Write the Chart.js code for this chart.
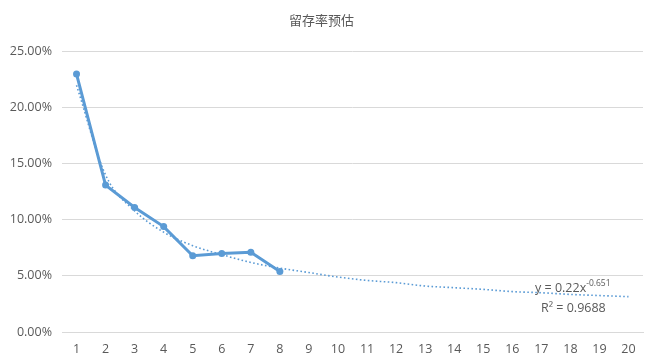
<!DOCTYPE html>
<html>
<head>
<meta charset="utf-8">
<script src="https://cdn.jsdelivr.net/npm/chart.js@4/dist/chart.umd.min.js"></script>
<style>
  html, body { margin: 0; padding: 0; background: #fff; }
</style>
</head>
<body>
<canvas id="res" width="654" height="363"></canvas>
<script>
(function () {

    // 天数
    var days = ["1","2","3","4","5","6","7","8","9","10","11","12","13","14","15","16","17","18","19","20"];
    // 实际留存率 (%)
    var retention = [23.0, 13.1, 11.1, 9.4, 6.8, 7.0, 7.1, 5.4];
    // 幂趋势线 (%)
    var trend = [22.0, 14.0, 10.8, 8.9, 7.7, 6.9, 6.2, 5.7, 5.3, 4.9,
                 4.6, 4.4, 4.1, 3.95, 3.8, 3.6, 3.5, 3.35, 3.25, 3.15];
    var yTicks = [0, 5, 10, 15, 20, 25];

    var blue = '#5B9BD5';
    var grey = '#595959';

    var trendLabel = {
        id: 'trendLabel',
        afterDatasetsDraw: function (chart) {
            var c = chart.ctx;
            c.save();
            c.fillStyle = grey;
            c.textBaseline = 'alphabetic';
            c.font = '12.5px "Open Sans", "Noto Sans", sans-serif';
            c.fillText('y = 0.22x', 535, 292);
            var w = c.measureText('y = 0.22x').width;
            c.font = '8.5px "Open Sans", "Noto Sans", sans-serif';
            c.fillText('-0.651', 535 + w, 286);
            c.font = '12.5px "Open Sans", "Noto Sans", sans-serif';
            c.fillText('R\u00B2 = 0.9688', 541, 312);
            c.restore();
        }
    };

    var ctx = document.getElementById("res").getContext('2d');

    new Chart(ctx, {
        type: 'line',
        data: {
            labels: days,
            datasets: [{
                label: '留存率',
                data: retention,
                borderColor: blue,
                backgroundColor: blue,
                borderWidth: 3,
                pointRadius: 3.5,
                pointBorderWidth: 0,
                pointBackgroundColor: blue,
                tension: 0,
                order: 1
            }, {
                label: '趋势线',
                data: trend,
                borderColor: blue,
                borderWidth: 1.6,
                borderDash: [1.6, 2.4],
                pointRadius: 0,
                cubicInterpolationMode: 'monotone',
                order: 2
            }]
        },
        options: {
            responsive: false,
            animation: false,
            layout: { padding: { left: 0, right: 11, top: 0, bottom: 0 } },
            plugins: {
                legend: { display: false },
                tooltip: { enabled: false },
                title: {
                    display: true,
                    text: '留存率预估',
                    color: grey,
                    font: { family: '"Noto Sans CJK SC", sans-serif', size: 13, weight: 'normal', lineHeight: 1.2 },
                    padding: { top: 12, bottom: 24 }
                }
            },
            scales: {
                x: {
                    offset: true,
                    grid: { display: false },
                    border: { color: '#d9d9d9' },
                    ticks: {
                        color: grey,
                        font: { family: '"Open Sans", "Noto Sans", sans-serif', size: 12.5 },
                        padding: 2,
                        maxRotation: 0,
                        autoSkip: false
                    },
                    afterFit: function (scale) { scale.height = 31; }
                },
                y: {
                    min: 0,
                    max: 25,
                    afterBuildTicks: function (scale) {
                        scale.ticks = yTicks.map(function (v) { return { value: v }; });
                    },
                    grid: { color: '#d9d9d9', drawTicks: false },
                    border: { display: false },
                    ticks: {
                        color: grey,
                        font: { family: '"Open Sans", "Noto Sans", sans-serif', size: 12.5 },
                        padding: 10,
                        callback: function (v) { return v.toFixed(2) + '%'; }
                    },
                    afterFit: function (scale) { scale.width = 62; }
                }
            }
        },
        plugins: [trendLabel]
    });

})();
</script>
</body>
</html>
